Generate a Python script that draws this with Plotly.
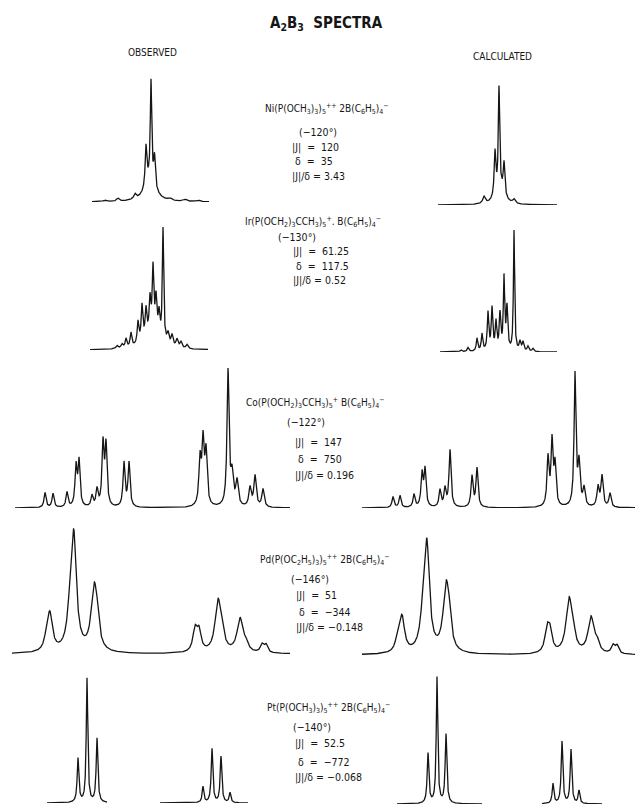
import numpy as np
import plotly.graph_objects as go

W, H = 635, 805

# ---------------- text content ----------------
TITLE = "<b>A<sub>2</sub>B<sub>3</sub>  SPECTRA</b>"
COLUMN_LABELS = ["OBSERVED", "CALCULATED"]
COMPOUNDS = [
    "Ni(P(OCH<sub>3</sub>)<sub>3</sub>)<sub>5</sub><sup>++</sup> 2B(C<sub>6</sub>H<sub>5</sub>)<sub>4</sub><sup>−</sup>",
    "Ir(P(OCH<sub>2</sub>)<sub>3</sub>CCH<sub>3</sub>)<sub>5</sub><sup>+</sup>. B(C<sub>6</sub>H<sub>5</sub>)<sub>4</sub><sup>−</sup>",
    "Co(P(OCH<sub>2</sub>)<sub>3</sub>CCH<sub>3</sub>)<sub>5</sub><sup>+</sup> B(C<sub>6</sub>H<sub>5</sub>)<sub>4</sub><sup>−</sup>",
    "Pd(P(OC<sub>2</sub>H<sub>5</sub>)<sub>3</sub>)<sub>5</sub><sup>++</sup> 2B(C<sub>6</sub>H<sub>5</sub>)<sub>4</sub><sup>−</sup>",
    "Pt(P(OCH<sub>3</sub>)<sub>3</sub>)<sub>5</sub><sup>++</sup> 2B(C<sub>6</sub>H<sub>5</sub>)<sub>4</sub><sup>−</sup>",
]
TEMPS = ["(−120°)", "(−130°)", "(−122°)", "(−146°)", "(−140°)"]
J_VALUES = ["120", "61.25", "147", "51", "52.5"]
DELTA_VALUES = ["35", "117.5", "750", "−344", "−772"]
RATIO_VALUES = ["3.43", "0.52", "0.196", "−0.148", "−0.068"]

# ---------------- spectra (line position, amplitude, half width) ----------------
NI_OBS_POS = [105, 118, 135, 146, 150, 151, 154.5, 170, 185, 198]
NI_OBS_AMP = [1.5, 3, 5, 40, 22, 98, 30, 2, 2, 1.5]
NI_OBS_HW = [2, 1.5, 1.5, 1.0, 6, 0.8, 1.0, 2, 2, 2]

NI_CAL_POS = [484, 495, 499, 500, 504, 514]
NI_CAL_AMP = [7, 45, 102, 14, 33, 4]
NI_CAL_HW = [1.5, 1.0, 0.8, 5, 1.0, 1.5]

IR_OBS_POS = [117, 122, 126, 131, 138, 142, 146, 150, 152, 153, 156, 159, 163, 168, 172, 177, 181, 187]
IR_OBS_AMP = [3, 4, 9, 14, 22, 36, 28, 34, 15, 64, 36, 24, 113, 11, 11, 8, 6, 4]
IR_OBS_HW = [1.2, 1.2, 1.0, 1.0, 1.0, 1.0, 1.0, 1.0, 9, 0.9, 1.0, 1.0, 0.8, 1.2, 1.2, 1.2, 1.2, 1.2]

IR_CAL_POS = [461, 468, 477, 482, 488, 492, 496, 500, 504, 507, 514, 520, 523, 528, 533]
IR_CAL_AMP = [2, 4, 13, 17, 38, 42, 28, 36, 72, 42, 120, 9, 9, 5, 3]
IR_CAL_HW = [1.0, 1.0, 0.9, 0.9, 0.9, 0.9, 0.9, 0.9, 0.8, 0.9, 0.7, 1.0, 1.0, 1.0, 1.0]

CO_OBS_POS = [45, 53, 67, 76, 79, 92, 97, 103, 106, 124, 129, 200, 203, 206, 228, 232, 237, 250, 255, 263]
CO_OBS_AMP = [15, 14, 15, 40, 45, 11, 17, 62, 60, 44, 44, 45, 62, 52, 135, 30, 25, 19, 31, 18]
CO_OBS_HW = [1.2, 1.2, 1.2, 1.2, 1.2, 1.2, 1.2, 1.2, 1.2, 1.2, 1.2, 1.3, 1.3, 1.3, 1.2, 1.5, 1.5, 1.4, 1.4, 1.4]

CO_CAL_POS = [393, 400, 414, 422, 425, 440, 445, 450, 472, 477, 548, 552, 555, 575, 579, 584, 598, 602, 610]
CO_CAL_AMP = [11, 12, 13, 33, 37, 17, 18, 57, 31, 39, 48, 64, 40, 132, 42, 18, 20, 31, 14]
CO_CAL_HW = [1.2, 1.2, 1.2, 1.2, 1.2, 1.2, 1.2, 1.2, 1.2, 1.2, 1.2, 1.2, 1.2, 1.1, 1.3, 1.3, 1.3, 1.3, 1.3]

PD_OBS_POS = [47, 50, 71, 74, 94, 97, 195, 199, 218, 222, 240, 246, 262, 266]
PD_OBS_AMP = [14, 34, 45, 95, 60, 20, 22, 20, 50, 14, 34, 7, 8, 8]
PD_OBS_HW = [2.5, 3, 3.5, 3, 3.5, 2.5, 2.5, 2.5, 3.5, 2.5, 3.5, 2.5, 2, 2]

PD_CAL_POS = [398, 402, 424, 427, 446, 449, 547, 550, 569, 573, 591, 597, 613, 617]
PD_CAL_AMP = [14, 34, 40, 90, 62, 22, 22, 20, 52, 16, 36, 9, 8, 8]
PD_CAL_HW = [2.5, 3, 3.5, 3, 3.5, 2.5, 2.5, 2.5, 3.5, 2.5, 3.5, 2.5, 2, 2]

PT_OBS_POS = [78, 87, 97, 203, 212, 221, 230]
PT_OBS_AMP = [44, 124, 64, 16, 54, 46, 10]
PT_OBS_HW = [1.0, 0.9, 1.0, 1.0, 1.0, 1.0, 1.0]

PT_CAL_POS = [428, 437, 446, 553, 562, 571, 579]
PT_CAL_AMP = [50, 126, 69, 20, 62, 54, 13]
PT_CAL_HW = [1.0, 0.9, 1.0, 1.0, 1.0, 1.0, 1.0]

SPECTRA = [
    (NI_OBS_POS, NI_OBS_AMP, NI_OBS_HW), (NI_CAL_POS, NI_CAL_AMP, NI_CAL_HW),
    (IR_OBS_POS, IR_OBS_AMP, IR_OBS_HW), (IR_CAL_POS, IR_CAL_AMP, IR_CAL_HW),
    (CO_OBS_POS, CO_OBS_AMP, CO_OBS_HW), (CO_CAL_POS, CO_CAL_AMP, CO_CAL_HW),
    (PD_OBS_POS, PD_OBS_AMP, PD_OBS_HW), (PD_CAL_POS, PD_CAL_AMP, PD_CAL_HW),
    (PT_OBS_POS, PT_OBS_AMP, PT_OBS_HW), (PT_CAL_POS, PT_CAL_AMP, PT_CAL_HW),
]

# ---------------- layout (pixel placement of each panel) ----------------
# (x start, x end, baseline y in px from top)
PANEL_BOX = [
    (92, 209, 202), (438, 557, 205),
    (90, 208, 350), (440, 557, 352),
    (15, 290, 508), (362, 635, 508),
    (12, 290, 654), (362, 635, 655),
    (47, 248, 803), (397, 602, 804),
]
PANEL_SEGMENTS = {
    8: [(47, 107), (160, 248)],
    9: [(397, 482), (542, 602)],
}
Y_SPAN = 170.0

INK = "#161616"
FONT = "DejaVu Sans Condensed, Liberation Sans Narrow, Roboto Condensed, DejaVu Sans, sans-serif"

fig = go.Figure()


def spectrum(xs, pos, amp, hw):
    y = np.zeros_like(xs)
    for p, a, w in zip(pos, amp, hw):
        y += a / (1.0 + ((xs - p) / w) ** 2)
    return y


for i, ((pos, amp, hw), (x0, x1, yb)) in enumerate(zip(SPECTRA, PANEL_BOX)):
    n = i + 1
    xa = "x" if n == 1 else f"x{n}"
    ya = "y" if n == 1 else f"y{n}"
    segs = PANEL_SEGMENTS.get(i, [(x0, x1)])
    for s0, s1 in segs:
        xs = np.linspace(s0, s1, int((s1 - s0) * 8) + 1)
        fig.add_trace(go.Scatter(
            x=xs, y=spectrum(xs, pos, amp, hw), mode="lines",
            line=dict(color=INK, width=1.3), xaxis=xa, yaxis=ya,
            hoverinfo="skip", showlegend=False))
    key_x = "xaxis" if n == 1 else f"xaxis{n}"
    key_y = "yaxis" if n == 1 else f"yaxis{n}"
    fig.layout[key_x] = dict(domain=[x0 / W, x1 / W], range=[x0, x1], visible=False,
                             anchor=ya, fixedrange=True)
    fig.layout[key_y] = dict(domain=[(H - yb) / H, (H - yb + Y_SPAN) / H],
                             range=[0, Y_SPAN], visible=False, anchor=xa, fixedrange=True)

annotations = []


def add_text(text, xpx, ypx, size=10.5, anchor="center"):
    annotations.append(dict(text=text, x=xpx / W, y=1 - ypx / H, xref="paper", yref="paper",
                            xanchor=anchor, yanchor="middle", showarrow=False,
                            font=dict(family=FONT, size=size, color=INK)))


add_text(TITLE, 327, 23, size=15)
add_text(COLUMN_LABELS[0], 152, 53, size=10)
add_text(COLUMN_LABELS[1], 503, 56, size=10)

BLOCK_FORMULA = [(327, 109), (313, 222), (315, 403), (325, 560), (328, 708)]
BLOCK_TEMP = [(318, 132), (297, 237), (306, 422), (310, 579), (312, 727)]
BLOCK_LEFT = [290, 291, 293, 294, 293]
BLOCK_LINES = [(147, 161, 176), (252, 266, 280), (442, 459, 475), (595, 612, 627), (743, 762, 777)]

for k in range(5):
    fx, fy = BLOCK_FORMULA[k]
    add_text(COMPOUNDS[k], fx, fy, size=10)
    tx, ty = BLOCK_TEMP[k]
    add_text(TEMPS[k], tx, ty, size=10.5)
    lx = BLOCK_LEFT[k]
    y1, y2, y3 = BLOCK_LINES[k]
    add_text(f"|J|  =  {J_VALUES[k]}", lx, y1, anchor="left")
    add_text(f" δ  =  {DELTA_VALUES[k]}", lx, y2, anchor="left")
    add_text(f"|J|/δ = {RATIO_VALUES[k]}", lx, y3, anchor="left")

fig.update_layout(
    width=W, height=H, margin=dict(l=0, r=0, t=0, b=0),
    paper_bgcolor="white", plot_bgcolor="rgba(0,0,0,0)",
    annotations=annotations, showlegend=False,
)

fig.write_html("out.html", config={"displayModeBar": False})
